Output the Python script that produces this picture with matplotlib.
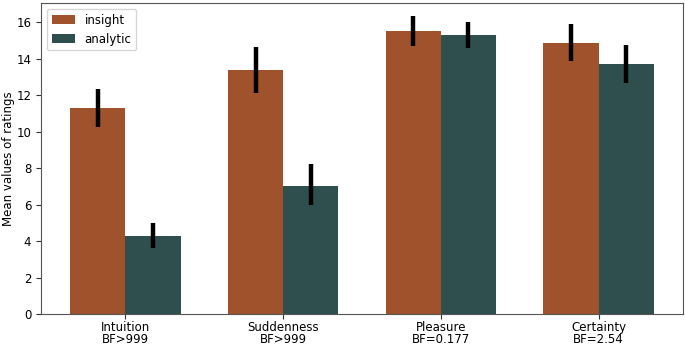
import numpy as np
import matplotlib
matplotlib.use('Agg')
import matplotlib.pyplot as plt

# mean ratings and error bar ends
categories = ['Intuition\nBF>999', 'Suddenness\nBF>999', 'Pleasure\nBF=0.177', 'Certainty\nBF=2.54']
insight = [11.28, 13.38, 15.50, 14.88]
insight_lo = [10.27, 12.12, 14.72, 13.88]
insight_hi = [12.32, 14.65, 16.35, 15.89]
analytic = [4.30, 7.04, 15.27, 13.68]
analytic_lo = [3.64, 5.96, 14.57, 12.69]
analytic_hi = [4.97, 8.21, 16.02, 14.75]

fig = plt.figure(figsize=(6.85, 3.46), dpi=100)
ax = fig.add_axes([41/685, 32/346, 642/685, 311/346])

x = np.arange(len(categories))
w = 0.35
ins = np.array(insight); ana = np.array(analytic)
ax.bar(x - w/2, ins, w, color='#A0522D', label='insight')
ax.bar(x + w/2, ana, w, color='#2F4F4F', label='analytic')

# error bars as thick black lines
for xi, lo, hi in zip(x - w/2, insight_lo, insight_hi):
    ax.plot([xi, xi], [lo, hi], color='black', lw=3.2, solid_capstyle='butt')
for xi, lo, hi in zip(x + w/2, analytic_lo, analytic_hi):
    ax.plot([xi, xi], [lo, hi], color='black', lw=3.2, solid_capstyle='butt')

ax.set_xlim(-0.535, 3.535)
ax.set_ylim(0, 17.05)
ax.set_xticks(x)
ax.set_xticklabels(categories, fontsize=8.5, linespacing=0.9)
ax.set_yticks(np.arange(0, 17, 2))
ax.tick_params(labelsize=8.5, color='#333333')
ax.tick_params(axis='x', pad=1.5)
ax.set_ylabel('Mean values of ratings', fontsize=8.5, labelpad=1)
for s in ax.spines.values():
    s.set_color('#555555')
ax.legend(loc='upper left', fontsize=8.5)

fig.savefig('out.png', dpi=100)
